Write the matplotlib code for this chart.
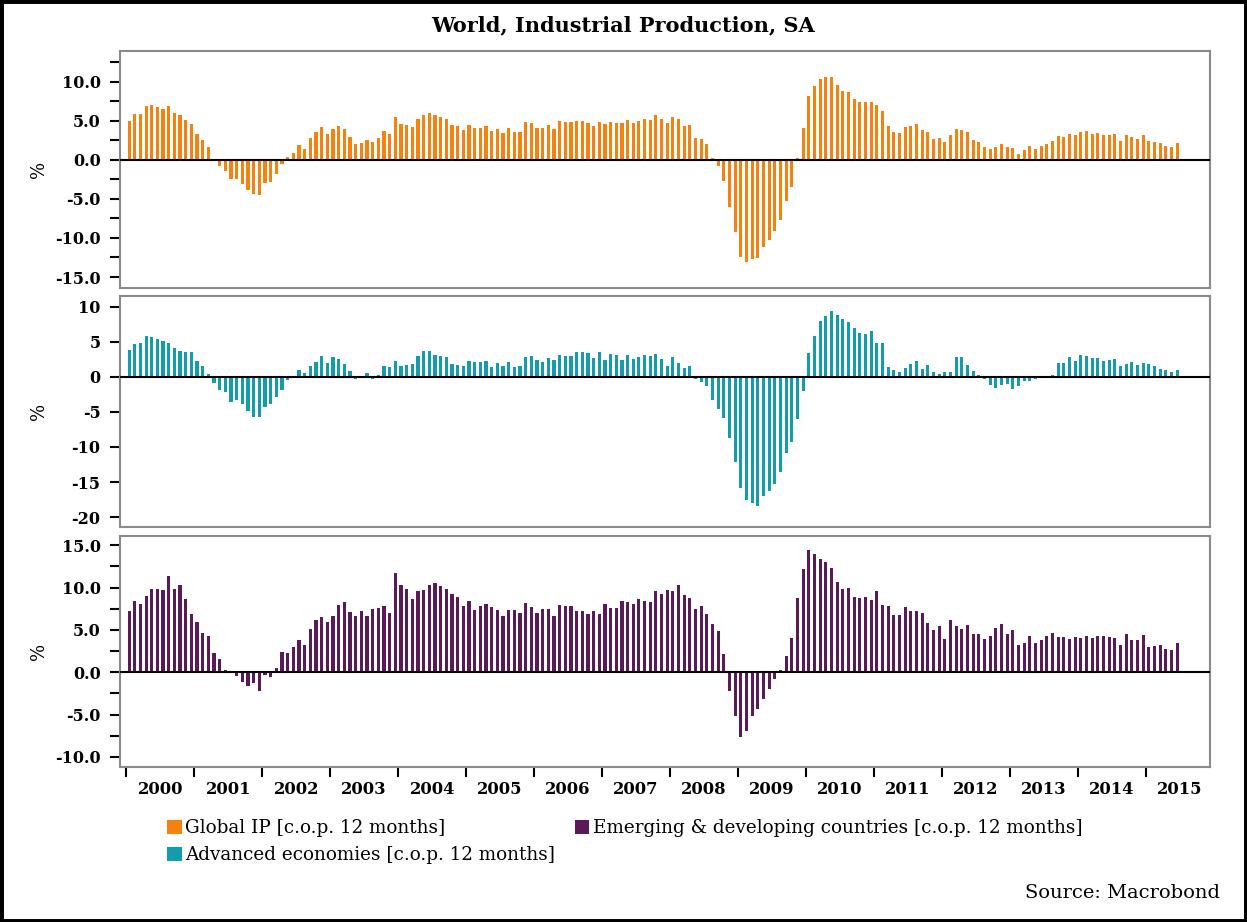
import numpy as np
import matplotlib
matplotlib.use('Agg')
import matplotlib.pyplot as plt
from matplotlib.patches import Patch, Rectangle
from matplotlib.ticker import MultipleLocator, FixedLocator, NullFormatter

plt.rcParams['font.family'] = ['DejaVu Serif']

# monthly values, Jan 2000 .. Jun 2015 (% change over 12 months)
global_ip = [
    4.95, 5.84, 5.84, 6.81, 7.02, 6.73, 6.51, 6.9, 5.92, 5.75, 5.08, 4.53,
    3.34, 2.54, 1.61, 0.1, -0.85, -1.48, -2.41, -2.45, -3.09, -3.85, -4.36, -4.57,
    -3.0, -2.88, -1.82, -0.55, 0.38, 0.8, 1.9, 1.4, 2.75, 3.51, 4.15, 3.3,
    3.98, 4.27, 3.98, 2.88, 1.99, 2.16, 2.5, 2.28, 2.75, 3.68, 3.3, 5.41,
    4.53, 4.48, 4.19, 5.25, 5.71, 5.96, 5.67, 5.46, 5.25, 4.44, 4.27, 3.81,
    4.4, 4.02, 4.1, 4.31, 3.64, 3.89, 3.43, 4.02, 3.6, 3.6, 4.82, 4.65,
    4.06, 4.06, 4.4, 3.89, 4.91, 4.78, 4.78, 4.95, 4.95, 4.65, 4.31, 4.78,
    4.57, 4.82, 4.74, 4.74, 5.03, 4.7, 4.99, 5.2, 5.08, 5.67, 5.16, 4.74,
    5.5, 5.2, 4.36, 4.4, 2.79, 2.66, 1.99, 0.21, -0.8, -2.66, -6.0, -9.22,
    -12.44, -13.07, -12.65, -12.52, -11.13, -10.24, -9.09, -7.7, -5.33, -3.55, 0.25, 4.02,
    8.16, 9.39, 10.36, 10.53, 10.62, 9.56, 8.84, 8.71, 7.7, 7.32, 7.32, 7.32,
    6.98, 6.22, 4.27, 3.6, 3.43, 4.15, 4.27, 4.57, 3.81, 3.55, 2.62, 2.75,
    2.24, 3.21, 3.98, 3.81, 3.51, 2.54, 2.24, 1.61, 1.35, 1.61, 2.03, 1.57,
    1.44, 0.76, 1.23, 1.73, 1.4, 1.73, 1.95, 2.37, 3.0, 2.96, 3.26, 3.17,
    3.51, 3.64, 3.3, 3.43, 3.17, 3.17, 3.26, 2.37, 3.13, 2.92, 2.66, 3.13,
    2.41, 2.28, 2.12, 1.78, 1.61, 2.16,
]
advanced = [
    3.84, 4.65, 4.79, 5.84, 5.7, 5.36, 5.03, 4.84, 4.13, 3.7, 3.46, 3.51,
    2.23, 1.57, 0.38, -0.9, -1.95, -2.23, -3.61, -3.32, -3.94, -4.89, -5.79, -5.74,
    -4.32, -3.89, -2.94, -1.9, -0.47, -0.19, 0.95, 0.57, 1.57, 2.14, 2.94, 1.95,
    2.75, 2.52, 1.85, 0.81, -0.33, -0.24, 0.47, -0.33, 0.28, 1.57, 1.42, 2.18,
    1.57, 1.66, 1.8, 2.94, 3.61, 3.61, 3.08, 2.9, 2.8, 1.85, 1.71, 1.57,
    2.18, 2.09, 2.04, 2.23, 1.38, 1.9, 1.57, 2.09, 1.38, 1.52, 2.75, 2.94,
    2.33, 2.09, 2.66, 2.33, 3.04, 2.94, 2.94, 3.56, 3.56, 3.32, 2.61, 3.46,
    2.37, 3.18, 3.04, 2.42, 3.04, 2.56, 2.75, 3.13, 2.99, 3.18, 2.56, 1.57,
    2.85, 1.95, 1.23, 1.57, -0.28, -0.71, -1.28, -3.37, -4.65, -5.93, -8.73, -12.15,
    -15.85, -17.61, -18.03, -18.37, -16.99, -16.28, -15.23, -13.62, -10.82, -9.3, -5.98, -2.04,
    3.32, 5.74, 7.93, 8.59, 9.35, 8.78, 8.21, 7.83, 6.93, 6.17, 6.12, 6.45,
    4.84, 4.79, 1.38, 0.9, 0.66, 1.23, 1.85, 2.28, 1.14, 1.71, 0.66, 0.38,
    0.66, 0.62, 2.75, 2.75, 1.71, 0.81, 0.28, -0.38, -1.14, -1.57, -1.23, -1.04,
    -1.71, -1.38, -0.66, -0.57, -0.38, -0.1, -0.19, 0.28, 1.99, 1.95, 2.8, 2.23,
    3.08, 2.99, 2.66, 2.66, 2.23, 2.33, 2.56, 1.57, 1.85, 2.09, 1.71, 1.99,
    1.85, 1.52, 1.09, 0.95, 0.62, 0.9,
]
emerging = [
    7.18, 8.36, 8.12, 9.03, 9.82, 9.82, 9.74, 11.4, 9.78, 10.25, 8.71, 6.9,
    5.88, 4.61, 4.34, 2.25, 1.62, 0.28, 0.2, -0.47, -1.18, -1.58, -1.26, -2.17,
    -0.32, -0.55, 0.47, 2.41, 2.29, 3.0, 3.86, 3.27, 5.13, 6.23, 6.55, 5.99,
    6.59, 7.89, 8.28, 7.06, 6.62, 7.18, 6.59, 7.53, 7.57, 7.77, 6.98, 11.67,
    10.25, 9.82, 8.71, 9.62, 9.7, 10.33, 10.57, 10.21, 9.86, 9.23, 8.91, 7.81,
    8.44, 7.41, 7.81, 8.12, 7.65, 7.41, 6.7, 7.3, 7.37, 7.02, 8.24, 7.69,
    7.02, 7.53, 7.53, 6.59, 8.0, 7.85, 7.77, 7.26, 7.18, 6.9, 7.22, 6.9,
    8.08, 7.57, 7.57, 8.44, 8.28, 8.04, 8.64, 8.4, 8.28, 9.58, 9.19, 9.7,
    9.58, 10.25, 9.15, 8.75, 7.53, 7.81, 6.94, 5.68, 4.85, 2.13, -2.17, -5.13,
    -7.65, -6.94, -5.17, -4.34, -3.12, -2.01, -0.75, 0.24, 1.93, 4.1, 8.75, 12.18,
    14.47, 14.0, 13.41, 13.01, 12.3, 10.61, 9.78, 9.9, 8.87, 8.75, 8.91, 8.52,
    9.58, 8.0, 7.77, 6.74, 6.74, 7.65, 7.18, 7.26, 6.98, 5.8, 4.97, 5.52,
    3.98, 6.15, 5.44, 5.09, 5.56, 4.53, 4.57, 3.98, 4.26, 5.17, 5.72, 4.53,
    4.97, 3.27, 3.43, 4.3, 3.47, 3.79, 4.34, 4.69, 4.18, 4.14, 3.9, 4.18,
    4.06, 4.34, 4.1, 4.34, 4.34, 4.18, 4.1, 3.19, 4.57, 3.86, 3.75, 4.38,
    3.0, 3.12, 3.23, 2.76, 2.68, 3.51,
]
years = list(range(2000, 2016))
labels = ['Global IP [c.o.p. 12 months]',
          'Advanced economies [c.o.p. 12 months]',
          'Emerging & developing countries [c.o.p. 12 months]']
colors = ['#f5820f', '#139cab', '#5a1a58']

months = np.arange(len(global_ip)) + 0.5

W, H = 1247, 922
fig = plt.figure(figsize=(W / 100, H / 100), dpi=100)

def px_axes(top, bottom, left=120, right=1210):
    return fig.add_axes([left / W, 1 - bottom / H, (right - left) / W, (bottom - top) / H])

axes = [px_axes(51, 288), px_axes(296, 527), px_axes(536, 767)]
series = [global_ip, advanced, emerging]
ylims = [(-16.4, 13.9), (-21.4, 11.5), (-11.2, 16.1)]
fmts = ['{:.1f}', '{:.0f}', '{:.1f}']

for ax, vals, col, yl, fmt in zip(axes, series, colors, ylims, fmts):
    ax.bar(months, vals, width=0.55, color=col, linewidth=0)
    ax.axhline(0, color='black', lw=1.5, zorder=3)
    ax.set_xlim(-1.1, 191.3)
    ax.set_ylim(*yl)
    for s in ax.spines.values():
        s.set_color('#8a8a8a')
        s.set_linewidth(1.5)
    ax.yaxis.set_major_locator(MultipleLocator(5))
    if fmt == '{:.1f}':
        ax.yaxis.set_minor_locator(MultipleLocator(2.5))
    ticks = ax.get_yticks()
    ax.set_yticks([t for t in ticks if yl[0] <= t <= yl[1]])
    ax.set_yticklabels([fmt.format(t) for t in ax.get_yticks()],
                       fontweight='bold', fontsize=11.5)
    ax.tick_params(axis='y', which='both', direction='out', length=7, width=1.5,
                   pad=7, color='black')
    ax.set_ylabel('%', fontsize=13)
    ax.yaxis.set_label_coords(-72 / 1090, 0.5)
    ax.set_xticks([])

# year ticks on the bottom panel
ax = axes[2]
ax.set_xticks([12 * i for i in range(len(years))])
ax.set_xticklabels([])
ax.xaxis.set_minor_locator(FixedLocator([12 * i + 6 for i in range(len(years))]))
ax.xaxis.set_minor_formatter(NullFormatter())
ax.set_xticks([12 * i + 6 for i in range(len(years))], minor=True)
ax.set_xticklabels([str(y) for y in years], minor=True, fontweight='bold', fontsize=11.8)
ax.tick_params(axis='x', which='major', direction='out', length=7, width=1.5, color='black')
ax.tick_params(axis='x', which='minor', length=0, pad=10)

fig.text(623 / W, 1 - 25 / H, 'World, Industrial Production, SA',
         ha='center', va='center', fontweight='bold', fontsize=15)

handles = [Patch(facecolor=c, edgecolor='none') for c in colors]
fig.legend(handles, labels, ncol=2, loc='upper left',
           bbox_to_anchor=(167 / W, 1 - 819 / H), frameon=False,
           fontsize=13.2, handlelength=0.8, handleheight=0.8, handletextpad=0.2,
           columnspacing=1.05, labelspacing=0.5, borderaxespad=0, borderpad=0)

fig.text(1220 / W, 1 - 893 / H, 'Source: Macrobond', ha='right', va='center', fontsize=14)

fig.add_artist(Rectangle((0, 0), 1, 1, transform=fig.transFigure, fill=False,
                         edgecolor='black', lw=5, clip_on=False))

fig.savefig('out.png', dpi=100)
